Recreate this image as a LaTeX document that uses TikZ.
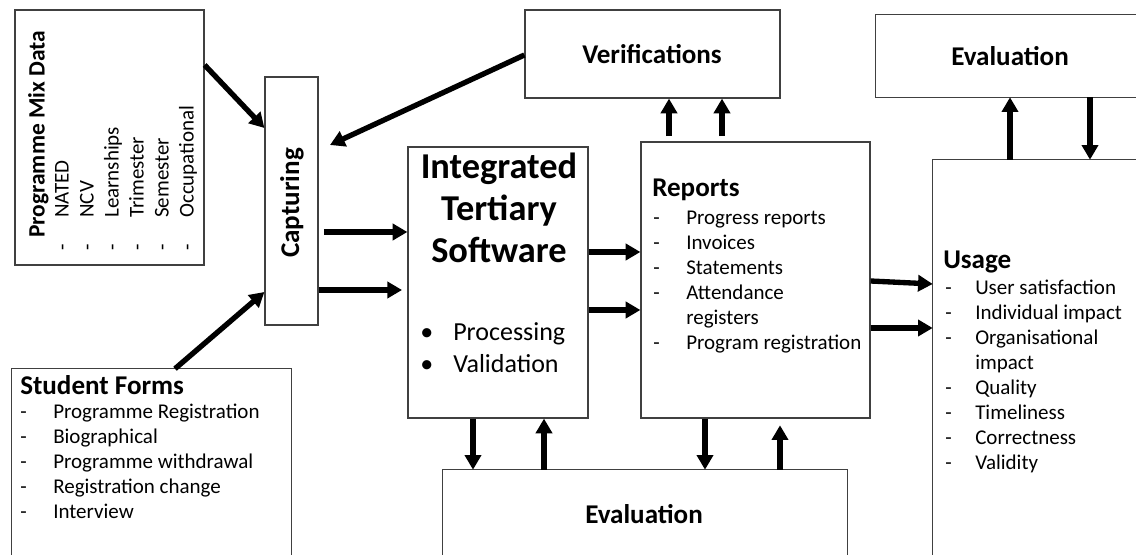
\documentclass[tikz,border=0pt]{standalone}
\usepackage{fontspec}
\setmainfont{Carlito}
\usetikzlibrary{arrows.meta,fit}

% list line: dash, then indented item
\newcommand\dashitem[2][24.75pt]{\makebox[#1][l]{-}#2}
\newcommand\contline[2][24.75pt]{\hspace*{#1}#2}
\newcommand\bulitem[1]{\makebox[24.75pt][l]{\textbullet}#1}

\begin{document}
\begin{tikzpicture}[x=0.75pt,y=-0.75pt,
  box/.style={draw=black!75,line width=0.9pt,inner sep=0pt},
  area/.style={inner sep=0pt},
  frame/.style={draw=black!75,line width=0.9pt},
  arr/.style={line width=4pt,-{Triangle[width=12pt,length=11pt]}},
  head/.style={inner sep=0pt,font=\fontsize{20.3pt}{24pt}\selectfont\bfseries},
  listtext/.style={inner sep=0pt,align=left,anchor=north west,
    font=\fontsize{15.75pt}{18.75pt}\selectfont},
]
\useasboundingbox (0,0) rectangle (1136,555);

% ---- boxes ----
\node[box,fit={(15,10) (204,265)}] (mix) {};
\node[box,fit={(265,77) (318,325)}] (cap) {};
\node[box,fit={(525,10) (780,98)}] (ver) {};
\node[box,fit={(408,147) (588,418)}] (its) {};
\node[box,fit={(641,142) (870,418)}] (rep) {};
\node[area,fit={(876,15) (1136,97)}] (rev) {};
\node[area,fit={(933,160) (1136,555)}] (use) {};
\node[area,fit={(443,470) (847,555)}] (evb) {};
\node[area,fit={(12,369) (291,555)}] (sf) {};
% boxes running off the page edge
\draw[frame] (rev.north east) -- (rev.north west) -- (rev.south west) -- (rev.south east);
\draw[frame] (use.north east) -- (use.north west) -- (use.south west);
\draw[frame] (evb.south west) -- (evb.north west) -- (evb.north east) -- (evb.south east);
\draw[frame] (sf.south west) -- (sf.north west) -- (sf.north east) -- (sf.south east);

% ---- texts ----
\node[head,font=\fontsize{17.6pt}{22pt}\selectfont\bfseries,rotate=90,anchor=north west] (mixt) at (28,238) {Programme Mix Data};
\node[listtext,rotate=90] (mixl) at (55,251) {\dashitem{NATED}\\ \dashitem{NCV}\\ \dashitem{Learnships}\\ \dashitem{Trimester}\\ \dashitem{Semester}\\ \dashitem{Occupational}};

\node[head,rotate=90] (capt) at (292,203) {Capturing};
\node[head] (vert) at (652,54) {Verifications};
\node[head] (revt) at (1010,56) {Evaluation};
\node[head] (evbt) at (644,514) {Evaluation};

\node[head,anchor=north west] (sft) at (20,375) {Student Forms};
\node[listtext] (sfl) at (20,404) {\dashitem{Programme Registration}\\ \dashitem{Biographical}\\ \dashitem{Programme withdrawal}\\ \dashitem{Registration change}\\ \dashitem{Interview}};

\node[inner sep=0pt,anchor=north,align=center,font=\fontsize{27.3pt}{31.5pt}\selectfont\bfseries] (itst) at (499,153) {Integrated\\Tertiary\\Software};
\node[inner sep=0pt,align=left,anchor=north west,font=\fontsize{19.5pt}{24pt}\selectfont] (itsl) at (420,322) {\bulitem{Processing}\\ \bulitem{Validation}};

\node[head,anchor=north west] (rept) at (652,179) {Reports};
\node[listtext] (repl) at (653,211) {\dashitem{Progress reports}\\ \dashitem{Invoices}\\ \dashitem{Statements}\\ \dashitem{Attendance}\\ \contline{registers}\\ \dashitem{Program registration}};

\node[head,anchor=north west] (uset) at (943,251) {Usage};
\node[listtext] (usel) at (945,280) {\dashitem[22.5pt]{User satisfaction}\\ \dashitem[22.5pt]{Individual impact}\\ \dashitem[22.5pt]{Organisational}\\ \contline[22.5pt]{impact}\\ \dashitem[22.5pt]{Quality}\\ \dashitem[22.5pt]{Timeliness}\\ \dashitem[22.5pt]{Correctness}\\ \dashitem[22.5pt]{Validity}};

% ---- connectors ----
\coordinate (captip) at (330,145);
\draw[arr] (mix.east |- 0,65) -- (cap.west |- 0,128);
\draw[arr] (ver.west |- 0,55) -- (captip);
\draw[arr] (sf.north -| 175,0) -- (cap.west |- 0,292);

\draw[arr] ([xshift=4pt]cap.east |- 0,232) -- (its.west |- 0,232);
\draw[arr] (cap.east |- 0,290) -- ([xshift=-4pt]its.west |- 0,290);

\draw[arr] (its.east |- 0,252) -- (rep.west |- 0,252);
\draw[arr] (its.east |- 0,310) -- (rep.west |- 0,310);

\draw[arr] ([yshift=4pt]rep.north -| 669,0) -- (ver.south -| 669,0);
\draw[arr] ([yshift=4pt]rep.north -| 722,0) -- (ver.south -| 722,0);

\draw[arr] (use.north -| 1010,0) -- (rev.south -| 1010,0);
\draw[arr] (rev.south -| 1090,0) -- (use.north -| 1090,0);

\draw[arr] (rep.east |- 0,281) -- (use.west |- 0,284);
\draw[arr] (rep.east |- 0,328) -- (use.west |- 0,328);

\draw[arr] (its.south -| 473,0) -- (evb.north -| 473,0);
\draw[arr] (evb.north -| 544,0) -- (its.south -| 544,0);
\draw[arr] (rep.south -| 705,0) -- (evb.north -| 705,0);
\draw[arr] (evb.north -| 780,0) -- ([yshift=-5pt]rep.south -| 780,0);
\end{tikzpicture}
\end{document}
